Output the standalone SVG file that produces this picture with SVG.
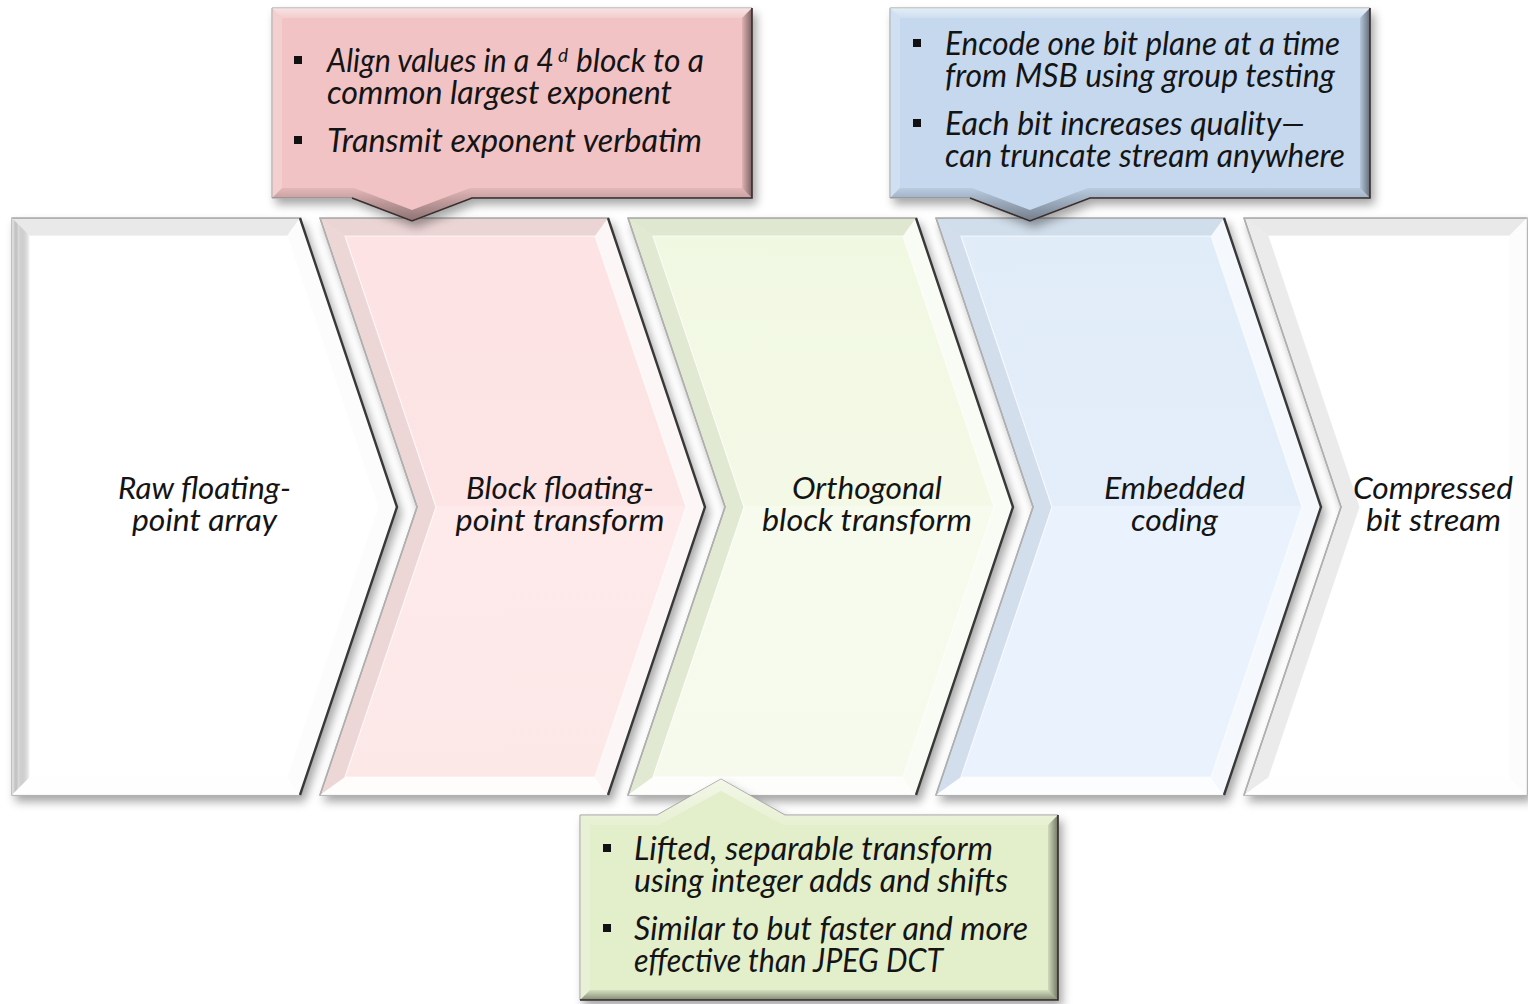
<svg xmlns="http://www.w3.org/2000/svg" width="1528" height="1004" viewBox="0 0 1528 1004">
<defs>
<filter id="sh" x="-10%" y="-10%" width="130%" height="130%">
<feDropShadow dx="4" dy="6" stdDeviation="5" flood-color="#000" flood-opacity="0.35"/>
</filter>
<linearGradient id="gW" x1="0" y1="0" x2="0" y2="1"><stop offset="0" stop-color="#ffffff"/><stop offset="1" stop-color="#ffffff"/></linearGradient>
<linearGradient id="gP" x1="0" y1="0" x2="0" y2="1"><stop offset="0" stop-color="#fde3e3"/><stop offset="0.5" stop-color="#fde5e5"/><stop offset="0.5" stop-color="#feeaea"/><stop offset="1" stop-color="#fde8e8"/></linearGradient>
<linearGradient id="gG" x1="0" y1="0" x2="0" y2="1"><stop offset="0" stop-color="#f1f8e2"/><stop offset="0.5" stop-color="#f3f9e6"/><stop offset="0.5" stop-color="#f6fbee"/><stop offset="1" stop-color="#f5faec"/></linearGradient>
<linearGradient id="gB" x1="0" y1="0" x2="0" y2="1"><stop offset="0" stop-color="#e1ecf9"/><stop offset="0.5" stop-color="#e3eefa"/><stop offset="0.5" stop-color="#eaf3fd"/><stop offset="1" stop-color="#e9f2fd"/></linearGradient>
<linearGradient id="gLft" x1="0" y1="0" x2="1" y2="0"><stop offset="0" stop-color="#fff" stop-opacity=".7"/><stop offset="0.35" stop-color="#000" stop-opacity=".12"/><stop offset="1" stop-color="#fff" stop-opacity=".5"/></linearGradient>
<linearGradient id="gRt" x1="0" y1="0" x2="1" y2="0"><stop offset="0" stop-color="#000" stop-opacity=".08"/><stop offset="1" stop-color="#000" stop-opacity=".5"/></linearGradient>
<linearGradient id="gBt" x1="0" y1="0" x2="0" y2="1"><stop offset="0" stop-color="#000" stop-opacity=".06"/><stop offset="1" stop-color="#000" stop-opacity=".42"/></linearGradient>
<linearGradient id="gTp" x1="0" y1="0" x2="0" y2="1"><stop offset="0" stop-color="#fff" stop-opacity=".55"/><stop offset="1" stop-color="#fff" stop-opacity=".15"/></linearGradient>
</defs>
<style>
.out{stroke:#a9a9a9;stroke-width:1.4}
.ft{fill:#000;opacity:.05}
.fl{fill:#000;opacity:.045}
.fb{fill:#fff;opacity:.88}
.fr{fill:#fff;opacity:.7}
.edge{fill:none;stroke:#383838;stroke-width:2.4;stroke-linejoin:miter}
.edgel{fill:none;stroke:#b0b0b0;stroke-width:1.5}
.inner{stroke:#ffffff;stroke-width:1.2;stroke-opacity:.7}
.lbl{font-family:Lato,"Open Sans",sans-serif;font-style:italic;font-size:31px;fill:#141414;text-anchor:middle}
.ct{font-family:Lato,"Open Sans",sans-serif;font-style:italic;font-size:32px;fill:#141414}
.bul{fill:#111}
.cbT{fill:url(#gTp)}
.cbL{fill:#fff;opacity:.2}
.cbR{fill:url(#gRt)}
.cbB{fill:url(#gBt)}
.cbo{stroke:#9a9a9a;stroke-width:1}
.cbe{fill:none;stroke:#3a2e2e;stroke-width:1.6}
</style>

<g id="node-raw" transform="translate(12,0)">
<polygon class="out" filter="url(#sh)" fill="#f6f6f6" points="0,218 288,218 385,507 288,795 0,795"/>
<polygon class="ft" points="0,218 288,218 275,236 18,236"/>
<polygon fill="url(#gLft)" points="0,218 18,236 18,777 0,795"/>
<polygon class="fb" points="0,795 18,777 275,777 288,795"/>
<polygon class="fr" points="288,218 385,507 366,507 275,236"/>
<polygon class="fr" points="385,507 288,795 275,777 366,507"/>
<polygon class="inner" fill="url(#gW)" points="18,236 275,236 366,507 275,777 18,777"/>
<polyline class="edge" points="288,218 385,507 288,795"/>
<text class="lbl"><tspan x="192.5" y="499" textLength="173" lengthAdjust="spacingAndGlyphs">Raw floating-</tspan><tspan x="192.5" y="531" textLength="145" lengthAdjust="spacingAndGlyphs">point array</tspan></text>
</g>

<g id="node-bfp" transform="translate(320,0)">
<polygon class="out" filter="url(#sh)" fill="#f8e0e0" points="0,218 288,218 385,507 288,795 0,795 97,507"/>
<polygon class="ft" points="0,218 288,218 275,236 25,236"/>
<polygon class="fl" points="0,218 25,236 116,507 97,507"/>
<polygon class="fl" points="97,507 116,507 25,777 0,795"/>
<polygon class="fb" points="0,795 25,777 275,777 288,795"/>
<polygon class="fr" points="288,218 385,507 366,507 275,236"/>
<polygon class="fr" points="385,507 288,795 275,777 366,507"/>
<polygon class="inner" fill="url(#gP)" points="25,236 275,236 366,507 275,777 25,777 116,507"/>
<polyline class="edge" points="288,218 385,507 288,795"/>
<polyline class="edgel" points="0,218 97,507 0,795"/>
<text class="lbl"><tspan x="240" y="499" textLength="188" lengthAdjust="spacingAndGlyphs">Block floating-</tspan><tspan x="240" y="531" textLength="209" lengthAdjust="spacingAndGlyphs">point transform</tspan></text>
</g>

<g id="node-obt" transform="translate(628,0)">
<polygon class="out" filter="url(#sh)" fill="#ecf4dc" points="0,218 288,218 385,507 288,795 0,795 97,507"/>
<polygon class="ft" points="0,218 288,218 275,236 25,236"/>
<polygon class="fl" points="0,218 25,236 116,507 97,507"/>
<polygon class="fl" points="97,507 116,507 25,777 0,795"/>
<polygon class="fb" points="0,795 25,777 275,777 288,795"/>
<polygon class="fr" points="288,218 385,507 366,507 275,236"/>
<polygon class="fr" points="385,507 288,795 275,777 366,507"/>
<polygon class="inner" fill="url(#gG)" points="25,236 275,236 366,507 275,777 25,777 116,507"/>
<polyline class="edge" points="288,218 385,507 288,795"/>
<polyline class="edgel" points="0,218 97,507 0,795"/>
<text class="lbl"><tspan x="239" y="499" textLength="150" lengthAdjust="spacingAndGlyphs">Orthogonal</tspan><tspan x="239" y="531" textLength="210" lengthAdjust="spacingAndGlyphs">block transform</tspan></text>
</g>

<g id="node-emb" transform="translate(936,0)">
<polygon class="out" filter="url(#sh)" fill="#dce9f7" points="0,218 288,218 385,507 288,795 0,795 97,507"/>
<polygon class="ft" points="0,218 288,218 275,236 25,236"/>
<polygon class="fl" points="0,218 25,236 116,507 97,507"/>
<polygon class="fl" points="97,507 116,507 25,777 0,795"/>
<polygon class="fb" points="0,795 25,777 275,777 288,795"/>
<polygon class="fr" points="288,218 385,507 366,507 275,236"/>
<polygon class="fr" points="385,507 288,795 275,777 366,507"/>
<polygon class="inner" fill="url(#gB)" points="25,236 275,236 366,507 275,777 25,777 116,507"/>
<polyline class="edge" points="288,218 385,507 288,795"/>
<polyline class="edgel" points="0,218 97,507 0,795"/>
<text class="lbl"><tspan x="238.5" y="499" textLength="141" lengthAdjust="spacingAndGlyphs">Embedded</tspan><tspan x="238.5" y="531" textLength="87" lengthAdjust="spacingAndGlyphs">coding</tspan></text>
</g>

<g id="node-cbs" transform="translate(1244,0)">
<polygon class="out" filter="url(#sh)" fill="#f6f6f6" points="0,218 283,218 283,795 0,795 97,507"/>
<polygon class="ft" points="0,218 283,218 265,236 25,236"/>
<polygon class="fl" points="0,218 25,236 116,507 97,507"/>
<polygon class="fl" points="97,507 116,507 25,777 0,795"/>
<polygon class="fb" points="0,795 25,777 265,777 283,795"/>
<polygon class="fr" points="283,218 283,795 265,777 265,236"/>
<polygon class="inner" fill="url(#gW)" points="25,236 265,236 265,777 25,777 116,507"/>
<polyline class="edgel" points="0,218 97,507 0,795"/>
<text class="lbl"><tspan x="189" y="499" textLength="160" lengthAdjust="spacingAndGlyphs">Compressed</tspan><tspan x="189.5" y="531" textLength="135" lengthAdjust="spacingAndGlyphs">bit stream</tspan></text>
</g>

<g id="callout-bfp">
<path class="cbo" filter="url(#sh)" fill="#f2c3c4" d="M272,8 H752 V198 H472 L412,221 L352,198 H272 Z"/>
<polygon class="cbT" points="272,8 752,8 742,18 282,18"/>
<polygon class="cbL" points="272,8 282,18 282,188 272,198"/>
<polygon class="cbR" points="752,8 752,198 742,188 742,18"/>
<polygon class="cbB" points="272,198 352,198 412,221 472,198 752,198 742,188 470,188 412,210 354,188 282,188"/>
<polyline class="cbe" points="752,8 752,198 472,198 412,221 352,198"/>
<rect class="bul" x="294" y="56" width="8" height="8"/>
<text class="ct"><tspan x="327" y="72" textLength="227" lengthAdjust="spacingAndGlyphs">Align values in a 4</tspan><tspan x="558" y="62" style="font-size:19px">d</tspan><tspan x="576" y="72" textLength="128" lengthAdjust="spacingAndGlyphs">block to a</tspan><tspan x="327" y="104" textLength="345" lengthAdjust="spacingAndGlyphs">common largest exponent</tspan></text>
<rect class="bul" x="294" y="136" width="8" height="8"/>
<text class="ct" x="327" y="152" textLength="375" lengthAdjust="spacingAndGlyphs">Transmit exponent verbatim</text>
</g>

<g id="callout-emb">
<path class="cbo" filter="url(#sh)" fill="#c5d8ee" d="M890,8 H1370 V198 H1090 L1030,221 L970,198 H890 Z"/>
<polygon class="cbT" points="890,8 1370,8 1360,18 900,18"/>
<polygon class="cbL" points="890,8 900,18 900,188 890,198"/>
<polygon class="cbR" points="1370,8 1370,198 1360,188 1360,18"/>
<polygon class="cbB" points="890,198 970,198 1030,221 1090,198 1370,198 1360,188 1088,188 1030,210 972,188 900,188"/>
<polyline class="cbe" points="1370,8 1370,198 1090,198 1030,221 970,198"/>
<rect class="bul" x="913" y="39" width="8" height="8"/>
<text class="ct"><tspan x="945" y="55" textLength="395" lengthAdjust="spacingAndGlyphs">Encode one bit plane at a time</tspan><tspan x="945" y="87" textLength="390" lengthAdjust="spacingAndGlyphs">from MSB using group testing</tspan></text>
<rect class="bul" x="913" y="119" width="8" height="8"/>
<text class="ct"><tspan x="945" y="135" textLength="360" lengthAdjust="spacingAndGlyphs">Each bit increases quality—</tspan><tspan x="945" y="167" textLength="400" lengthAdjust="spacingAndGlyphs">can truncate stream anywhere</tspan></text>
</g>

<g id="callout-obt">
<path class="cbo" filter="url(#sh)" fill="#e3eecb" d="M580,815 H657 L721,779 L785,815 H1058 V1000 H580 Z"/>
<polygon class="cbT" points="580,815 657,815 721,779 785,815 1058,815 1048,825 783,825 721,791 659,825 590,825"/>
<polygon class="cbL" points="580,815 590,825 590,990 580,1000"/>
<polygon class="cbR" points="1058,815 1058,1000 1048,990 1048,825"/>
<polygon class="cbB" points="580,1000 1058,1000 1048,990 590,990"/>
<polyline class="cbe" points="1058,815 1058,1000 580,1000"/>
<rect class="bul" x="603" y="844" width="8" height="8"/>
<text class="ct"><tspan x="634" y="860" textLength="359" lengthAdjust="spacingAndGlyphs">Lifted, separable transform</tspan><tspan x="634" y="892" textLength="374" lengthAdjust="spacingAndGlyphs">using integer adds and shifts</tspan></text>
<rect class="bul" x="603" y="924" width="8" height="8"/>
<text class="ct"><tspan x="634" y="940" textLength="394" lengthAdjust="spacingAndGlyphs">Similar to but faster and more</tspan><tspan x="634" y="972" textLength="309" lengthAdjust="spacingAndGlyphs">effective than JPEG DCT</tspan></text>
</g>

<g id="connectors"></g>
</svg>
